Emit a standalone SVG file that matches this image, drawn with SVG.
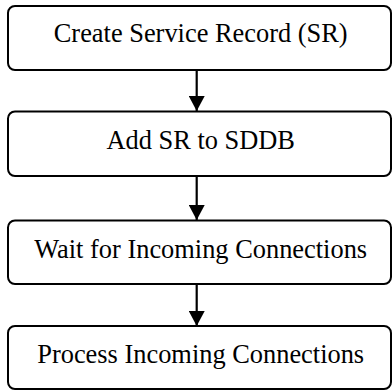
<svg xmlns="http://www.w3.org/2000/svg" width="392" height="392" viewBox="0 0 392 392">
  <style>
    .box { fill: #ffffff; stroke: #000000; stroke-width: 2; }
    .label { font-family: "Liberation Serif", "Times New Roman", serif; font-size: 26.4px; fill: #000000; text-anchor: middle; }
    .conn { stroke: #000000; stroke-width: 2.2; fill: none; }
  </style>
  <defs>
    <marker id="arrowhead" markerUnits="userSpaceOnUse" markerWidth="16" markerHeight="16" viewBox="0 0 16 16" refX="15" refY="8" orient="auto">
      <path d="M0,0 L15,8 L0,16 Z" fill="#000000"/>
    </marker>
  </defs>
  <rect x="0" y="0" width="392" height="392" fill="#ffffff"/>

  <g id="connectors">
    <line class="conn" x1="196.7" y1="71" x2="196.7" y2="111" marker-end="url(#arrowhead)"/>
    <line class="conn" x1="196.7" y1="176.5" x2="196.7" y2="220" marker-end="url(#arrowhead)"/>
    <line class="conn" x1="196.7" y1="284.5" x2="196.7" y2="326" marker-end="url(#arrowhead)"/>
  </g>

  <g id="node-create-sr">
    <rect class="box" x="8" y="6" width="383" height="64" rx="7"/>
    <text class="label" x="200.7" y="42.3">Create Service Record (SR)</text>
  </g>
  <g id="node-add-sr">
    <rect class="box" x="8" y="111.5" width="383" height="64.5" rx="7"/>
    <text class="label" x="200.7" y="149.3">Add SR to SDDB</text>
  </g>
  <g id="node-wait">
    <rect class="box" x="8" y="220.5" width="383" height="63.5" rx="7"/>
    <text class="label" x="200.7" y="258.3">Wait for Incoming Connections</text>
  </g>
  <g id="node-process">
    <rect class="box" x="8" y="326" width="383" height="63" rx="7"/>
    <text class="label" x="200.7" y="363">Process Incoming Connections</text>
  </g>
</svg>
